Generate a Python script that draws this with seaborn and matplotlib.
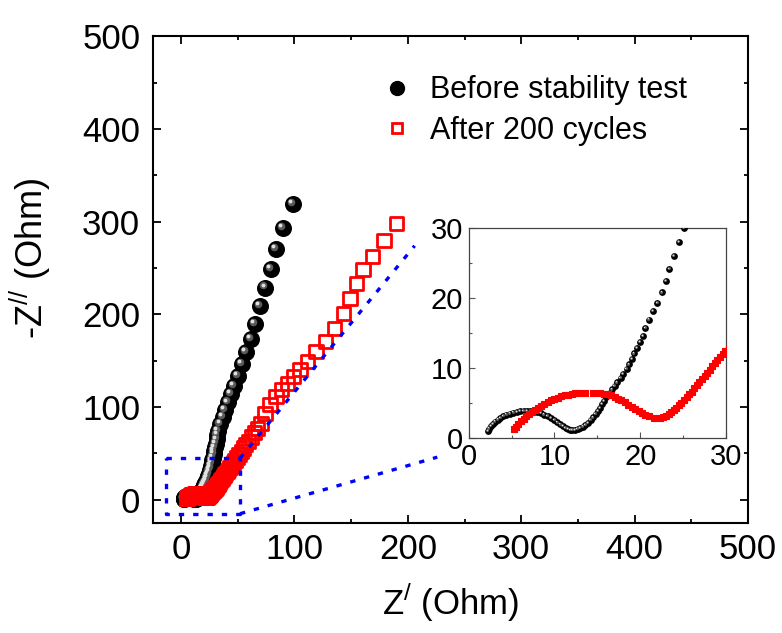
import numpy as np
import pandas as pd
import matplotlib
matplotlib.use("Agg")
import matplotlib.pyplot as plt
import matplotlib.transforms as mtransforms
from matplotlib.ticker import MultipleLocator
import seaborn as sns

## data (Nyquist plot, Ohm)
before_x = [2.25, 2.4, 2.6, 2.85, 3.1, 3.4, 3.7, 4.05, 4.4, 4.8, 5.2, 5.6, 6.0, 6.4, 6.8,
            7.2, 7.6, 8.0, 8.4, 8.8, 9.2, 9.6, 10.0, 10.35, 10.7, 11.0, 11.3, 11.6, 11.85,
            12.1, 12.4, 12.7, 13.0, 13.3, 13.6, 13.9, 14.2, 14.5, 14.8, 15.05, 15.3, 15.55,
            15.8, 16.05, 16.25, 16.45, 16.7, 17.0, 17.3, 17.7, 18.0, 18.4, 18.7, 19.0, 19.3,
            19.6, 20.0, 20.3, 20.6, 21.05, 21.5, 22.0, 22.5, 23.0, 23.4, 23.9, 24.5, 25.1,
            25.6, 26.1, 26.6, 27.1, 27.6, 28.1, 28.7, 29.3, 29.9, 30.6, 31.3, 32.1, 32.9,
            34.7, 36.8, 38.8, 41.2, 43.8, 46.7, 50.0, 53.5, 57.6, 61.7, 65.5, 69.7, 74.4,
            79.1, 83.8, 89.7, 98.5]
before_y = [0.96, 1.3, 1.65, 2.0, 2.3, 2.6, 2.85, 3.1, 3.3, 3.45, 3.6, 3.7, 3.78, 3.83, 3.85,
            3.83, 3.78, 3.68, 3.52, 3.32, 3.08, 2.8, 2.5, 2.2, 1.9, 1.65, 1.42, 1.25, 1.15,
            1.12, 1.15, 1.25, 1.4, 1.6, 1.85, 2.15, 2.5, 2.9, 3.35, 3.8, 4.3, 4.8,
            5.3, 5.8, 6.2, 6.45, 6.9, 7.4, 7.9, 8.5, 9.1, 9.8, 10.5, 11.3, 12.05,
            12.85, 13.7, 14.6, 15.7, 16.9, 18.1, 19.3, 20.8, 22.4, 24.1, 26.0, 28.0, 30.0,
            32.1, 34.4, 36.9, 39.6, 42.5, 45.6, 49.0, 52.6, 56.5, 60.7, 65.1, 69.8, 74.7,
            81.6, 89.2, 97.0, 105.0, 114.0, 123.2, 133.7, 146.3, 159.9, 173.6, 189.8, 209.2, 229.0,
            249.4, 270.3, 293.6, 319.2]

after_x = [5.24, 5.5, 5.8, 6.1, 6.4, 6.7, 7.0, 7.35, 7.7, 8.05, 8.4, 8.8, 9.2, 9.6, 10.0,
           10.4, 10.8, 11.2, 11.6, 12.0, 12.4, 12.8, 13.6, 14.5, 15.3, 15.8, 16.2, 16.6, 17.0,
           17.4, 17.8, 18.2, 18.6, 19.0, 19.4, 19.8, 20.2, 20.6, 21.0, 21.6, 22.3, 22.7, 23.0,
           23.3, 23.6, 23.9, 24.2, 24.5, 24.8, 25.1, 25.4, 25.7, 26.0, 26.3, 26.6, 26.9, 27.2,
           27.5, 27.8, 28.1, 28.4, 28.7, 29.0, 29.3, 29.6, 29.9, 30.4, 30.9, 31.4, 32.0, 32.6,
           33.3, 34.0, 34.8, 35.6, 36.5, 37.4, 38.4, 39.5, 40.6, 41.8, 43.1, 44.5, 46.0, 47.6,
           49.3, 51.1, 53.0, 55.0, 57.1, 59.3, 61.8, 64.4, 67.3, 70.5, 74.1, 78.5, 83.8, 88.8,
           93.7, 99.0, 104.9, 111.7, 119.0, 127.2, 135.2, 143.1, 149.0, 154.6, 160.5, 168.7,
           179.0, 190.2]
after_y = [1.2, 1.55, 1.95, 2.35, 2.7, 3.05, 3.35, 3.65, 3.95, 4.25, 4.55, 4.85, 5.1, 5.35, 5.55,
           5.75, 5.9, 6.05, 6.15, 6.25, 6.33, 6.37, 6.4, 6.4, 6.37, 6.3, 6.2, 6.05, 5.85,
           5.6, 5.35, 5.05, 4.75, 4.45, 4.15, 3.85, 3.55, 3.25, 3.05, 2.85, 2.77, 2.9, 3.1,
           3.35, 3.65, 3.95, 4.3, 4.65, 5.0, 5.4, 5.8, 6.2, 6.6, 7.05, 7.5, 7.95, 8.4,
           8.85, 9.3, 9.75, 10.2, 10.65, 11.1, 11.55, 12.0, 12.45, 12.7, 13.6, 14.5, 15.5, 16.6,
           17.8, 19.0, 20.4, 21.8, 23.4, 25.0, 26.7, 28.6, 30.6, 32.7, 34.9, 37.4, 40.0, 42.8,
           45.8, 48.9, 52.3, 55.8, 59.4, 63.3, 67.7, 72.2, 77.3, 82.7, 93.5, 102.4, 111.4, 118.6,
           125.8, 133.0, 140.2, 149.1, 159.9, 170.7, 185.1, 201.3, 217.5, 232.9, 248.0, 262.4,
           279.3, 297.6]

labels = ["Before stability test", "After 200 cycles"]
main_ticks = [0, 100, 200, 300, 400, 500]
inset_ticks = [0, 10, 20, 30]
# zoom box and connector ends (data units of the main axes)
box_x = [-13, 52, 52, -13, -13]
box_y = [45, 45, -15, -15, 45]
link_top = ([52, 206], [45, 274])
link_bottom = ([52, 226], [-15, 46])

before = pd.DataFrame({"x": before_x, "y": before_y})
after = pd.DataFrame({"x": after_x, "y": after_y})

sns.set_style("ticks")
plt.rcParams["font.family"] = ["Liberation Sans", "DejaVu Sans"]
plt.rcParams["mathtext.fontset"] = "custom"
plt.rcParams["mathtext.rm"] = "Liberation Sans"
for k in ["text.color", "axes.labelcolor", "xtick.color", "ytick.color"]:
    plt.rcParams[k] = "black"

fig = plt.figure(figsize=(7.82, 6.33), dpi=100)
ax = fig.add_axes([0.1953, 0.1738, 0.7612, 0.7689])
axin = fig.add_axes([0.5994, 0.3085, 0.329, 0.3313])


def spheres(a, data, size):
    # black ball with a grey highlight up-left
    sns.scatterplot(data=data, x="x", y="y", ax=a, color="black", s=size, linewidth=0,
                    zorder=3, legend=False)
    d = np.sqrt(size)
    off1 = mtransforms.offset_copy(a.transData, fig=fig, x=-d * 0.12, y=d * 0.12, units="points")
    off2 = mtransforms.offset_copy(a.transData, fig=fig, x=-d * 0.17, y=d * 0.17, units="points")
    a.scatter(data["x"], data["y"], s=size * 0.2, color="#5a5a5a", linewidth=0,
              transform=off1, zorder=3)
    a.scatter(data["x"], data["y"], s=size * 0.05, color="#e0e0e0", linewidth=0,
              transform=off2, zorder=3)


# main plot
spheres(ax, before, 150)
sns.scatterplot(data=after, x="x", y="y", ax=ax, marker="s", s=90, facecolor="none",
                edgecolor="red", linewidth=2.0, zorder=4, legend=False)

blue = dict(color="blue", lw=2.4, ls=(0, (1.6, 2.7)), zorder=6, dash_capstyle="butt")
ax.plot(box_x, box_y, **blue)
ax.plot(link_top[0], link_top[1], **blue)
ax.plot(link_bottom[0], link_bottom[1], **blue)

ax.set_xlim(-25, 500)
ax.set_ylim(-25, 500)
ax.set_xticks(main_ticks)
ax.set_yticks(main_ticks)
ax.xaxis.set_minor_locator(MultipleLocator(50))
ax.yaxis.set_minor_locator(MultipleLocator(50))
ax.tick_params(which="both", direction="in", top=True, right=True, width=1.3, labelsize=25)
ax.tick_params(which="major", length=6)
ax.tick_params(which="minor", length=3)
ax.tick_params(axis="x", which="major", pad=7)
ax.tick_params(axis="y", which="major", pad=9)
for sp in ax.spines.values():
    sp.set_linewidth(1.5)
    sp.set_color("black")
ax.set_xlabel(r"Z$^{\mathrm{/}}$ (Ohm)", fontsize=25, labelpad=11)
ax.set_ylabel(r"-Z$^{\mathrm{//}}$ (Ohm)", fontsize=26)
ax.yaxis.set_label_coords(-0.168, 0.545)

# legend with ball marker
h_ball = plt.Line2D([], [], ls="none", marker="o", markersize=10, color="black")
h_sq = plt.Line2D([], [], ls="none", marker="s", markersize=7.5, markerfacecolor="none",
                  markeredgecolor="red", markeredgewidth=2)
ax.legend([h_ball, h_sq], labels, loc="upper left", bbox_to_anchor=(0.47, 0.905),
          bbox_transform=fig.transFigure, frameon=False, fontsize=22, handlelength=0.9,
          handletextpad=0.65, labelspacing=0.35, borderpad=0)

# inset
spheres(axin, before, 24)
sns.scatterplot(data=after, x="x", y="y", ax=axin, marker="s", s=14, facecolor="red",
                edgecolor="red", linewidth=0.8, zorder=4, legend=False)
axin.set_xlim(0, 30)
axin.set_ylim(0, 30)
axin.set_xticks(inset_ticks)
axin.set_yticks(inset_ticks)
axin.xaxis.set_minor_locator(MultipleLocator(5))
axin.yaxis.set_minor_locator(MultipleLocator(5))
axin.tick_params(which="both", direction="in", labelsize=21, width=0.8, color="#555555",
                 labelcolor="black")
axin.tick_params(which="major", length=4, pad=4)
axin.tick_params(which="minor", length=2)
axin.set_xlabel("")
axin.set_ylabel("")
for sp in axin.spines.values():
    sp.set_linewidth(0.9)
    sp.set_color("#444444")

fig.savefig("out.png", dpi=100)
